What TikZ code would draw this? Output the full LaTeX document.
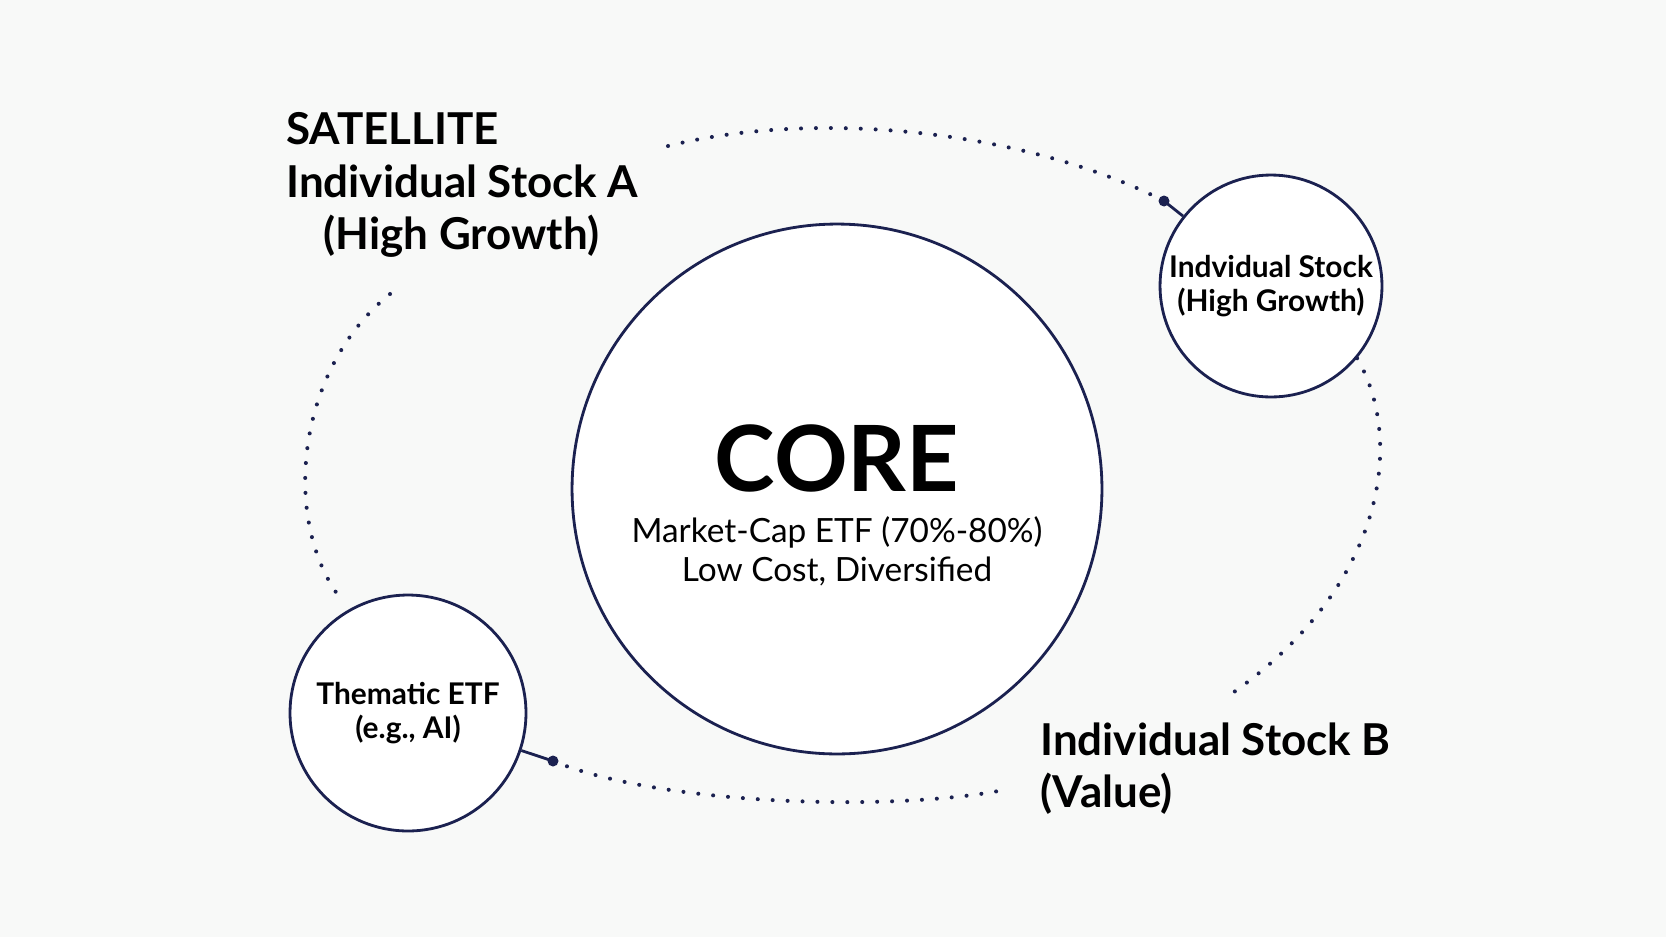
\documentclass[tikz,border=0pt]{standalone}
\usepackage{fontspec}
\setmainfont{Lato}
\usetikzlibrary{positioning}
\definecolor{navy}{HTML}{1B2150}
\definecolor{paper}{HTML}{F8F9F8}
\tikzset{
    ring/.style={circle, draw=navy, line width=1.6pt, fill=white, inner sep=0pt, align=center},
    orbit/.style={navy, line width=2.3pt, line cap=round, dash pattern=on 0pt off 8.5pt},
    label/.style={font=\fontsize{25}{30}\selectfont\bfseries, align=left, anchor=north west, inner sep=0pt}
}
\begin{document}
\begin{tikzpicture}[x=0.02cm, y=-0.02cm]
    \fill[paper] (0, 0) rectangle (1666, 937);

    % circles
    \node[ring, minimum size=10.6cm] (core) at (837, 489) {};
    \node[font=\fontsize{52}{60}\selectfont\bfseries] (coretitle) at (837, 458) {CORE};
    \node[font=\fontsize{19}{22}\selectfont, align=center, below=0.25cm of coretitle] (coretext) {Market-Cap ETF (70\%-80\%)\\Low Cost, Diversified};
    \node[ring, minimum size=4.44cm, font=\fontsize{17}{19.5}\selectfont\bfseries] (growth) at (1271, 286) {Indvidual Stock\\(High Growth)};
    \node[ring, minimum size=4.72cm, font=\fontsize{17}{19.5}\selectfont\bfseries] (thematic) at (408, 713) {Thematic ETF\\(e.g., AI)};

    % labels
    \node[label] (satellite) at (286, 112) {SATELLITE\\Individual Stock A\\\hspace*{0.75cm}(High Growth)};
    \node[label] (stockb) at (1040, 722) {Individual Stock B\\(Value)};

    % orbit
    \coordinate (topstart) at (668, 146);
    \coordinate (topdot) at (1164, 201);
    \coordinate (rightend) at (1234, 692);
    \coordinate (botdot) at (553, 761);
    \coordinate (botend) at (1004, 790);
    \coordinate (leftstart) at (390, 294);
    \coordinate (leftend) at (344, 603);

    \draw[orbit] (topstart) .. controls (820, 108) and (1030, 132) .. (topdot);
    \fill[navy] (topdot) circle (5.5);
    \draw[navy, line width=1.6pt] (topdot) -- (growth);
    \draw[orbit] (growth.-40) .. controls (1405, 440) and (1385, 585) .. (rightend);
    \draw[orbit] (botdot) .. controls (660, 805) and (890, 812) .. (botend);
    \fill[navy] (botdot) circle (5.5);
    \draw[navy, line width=1.6pt] (thematic) -- (botdot);
    \draw[orbit] (leftstart) .. controls (295, 370) and (280, 525) .. (leftend);
\end{tikzpicture}
\end{document}
